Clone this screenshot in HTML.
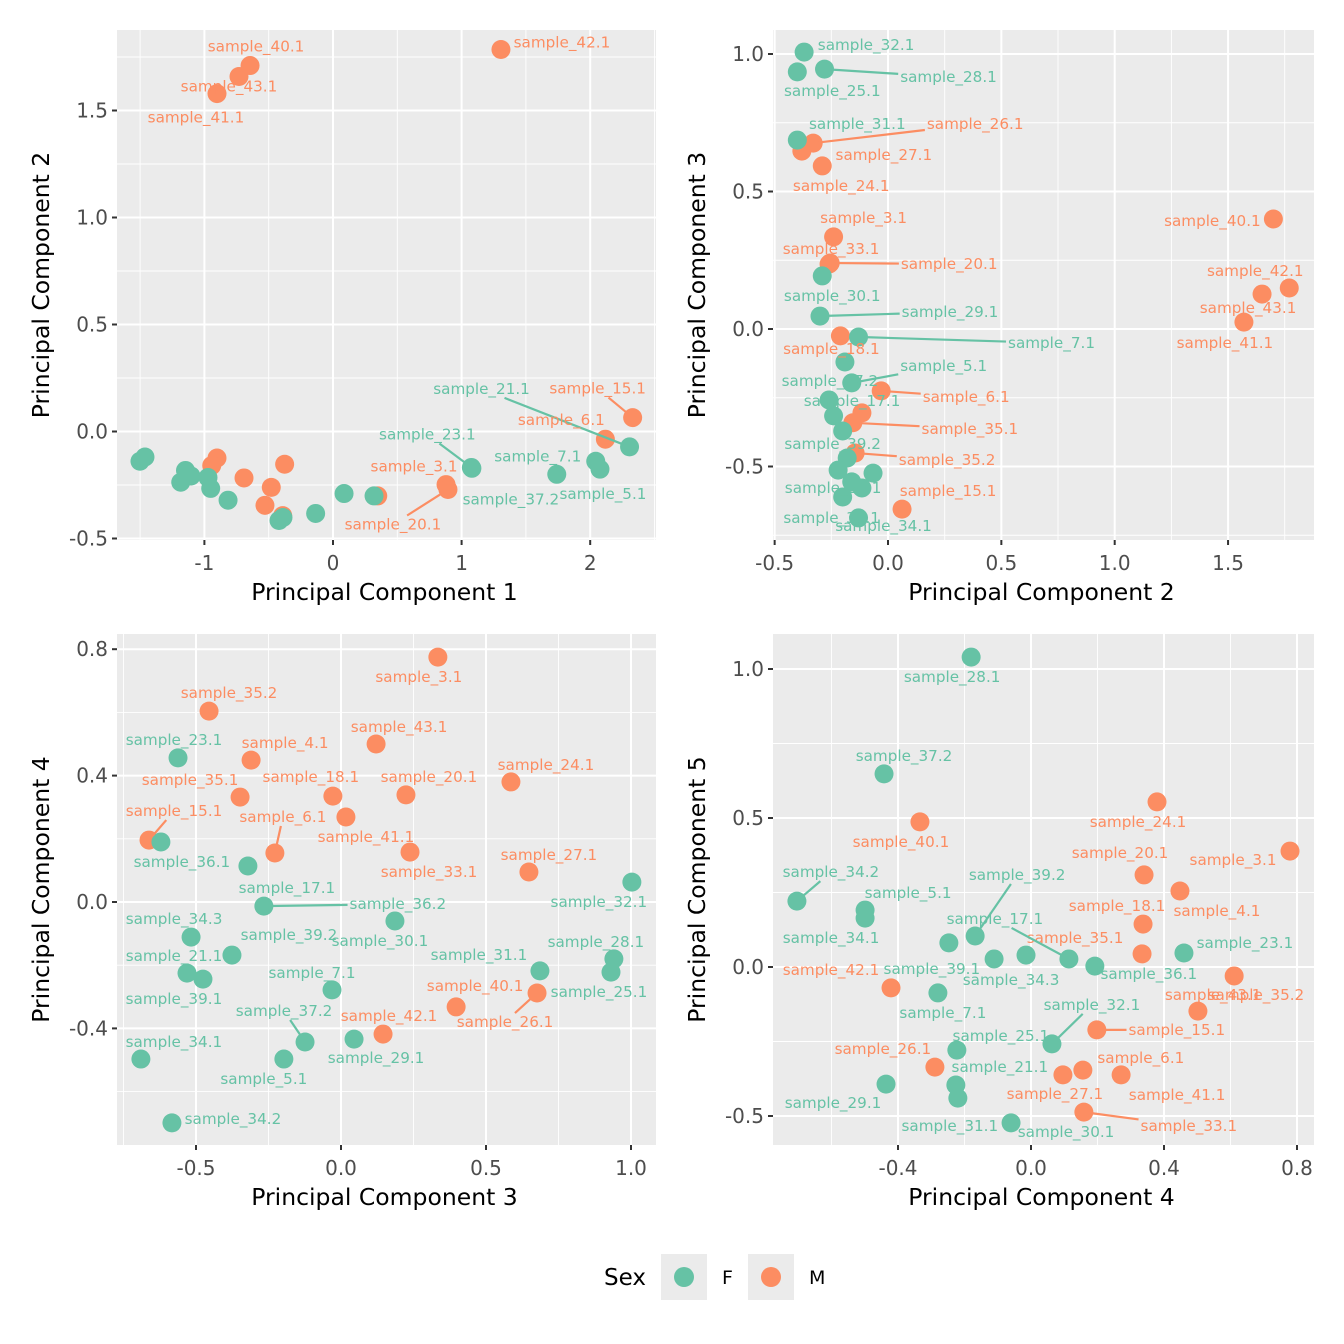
<!DOCTYPE html>
<html><head><meta charset="utf-8"><style>
html,body{margin:0;padding:0;background:#fff;}
svg{display:block;font-family:"DejaVu Sans","Liberation Sans",sans-serif;}
</style></head><body>
<svg id="chart" width="1344" height="1344" viewBox="0 0 1344 1344" xmlns="http://www.w3.org/2000/svg">
<rect x="0" y="0" width="1344" height="1344" fill="#fff"/>
<g>
  <text x="604" y="1285" font-size="23" fill="#000">Sex</text>
  <rect x="661" y="1254" width="46" height="46" fill="#EBEBEB"/>
  <circle cx="684" cy="1277" r="10" fill="#66C2A5"/>
  <text x="722" y="1284" font-size="19" fill="#000">F</text>
  <rect x="748" y="1254" width="46" height="46" fill="#EBEBEB"/>
  <circle cx="771" cy="1277" r="10" fill="#FC8D62"/>
  <text x="809" y="1284" font-size="19" fill="#000">M</text>
</g>
</svg>
<script>
// ---- Panel 1: PC1 vs PC2 ----
const p1Sex = ['F','F','F','F','F','F','F','F','F','F','F','F','F','F','F','F','F','F','F','M','M','M','M','M','M','M','M','M','M','M','M','M','M','M','M'];
const p1X = [-1.501,-1.462,-1.147,-1.184,-1.104,-0.972,-0.951,-0.816,-0.420,-0.389,-0.135,0.086,0.319,1.076,1.080,1.740,2.043,2.076,2.306,-0.902,-0.943,-0.692,-0.376,-0.480,-0.529,-0.391,0.348,0.879,0.894,2.118,2.330,-0.902,-0.731,-0.645,1.306];
const p1Y = [-0.139,-0.119,-0.182,-0.237,-0.208,-0.215,-0.266,-0.321,-0.416,-0.402,-0.383,-0.290,-0.301,-0.168,-0.172,-0.200,-0.139,-0.176,-0.072,-0.124,-0.159,-0.217,-0.153,-0.261,-0.345,-0.393,-0.301,-0.248,-0.271,-0.036,0.065,1.579,1.659,1.710,1.785];
const p1Names = ['','','','','','','','','','','','','','sample_23.1','sample_37.2','sample_7.1','','sample_5.1','sample_21.1','','','','','','','','','sample_3.1','sample_20.1','sample_6.1','sample_15.1','sample_41.1','sample_43.1','sample_40.1','sample_42.1'];
const p1LabDx = [0,0,0,0,0,0,0,0,0,0,0,0,0,-44,39,-19,0,3,-148,0,0,0,0,0,0,0,0,-32,-55,-44,-35,-21,-10,6,61];
const p1LabDy = [0,0,0,0,0,0,0,0,0,0,0,0,0,-33,31,-18,0,25,-58,0,0,0,0,0,0,0,0,-18,35,-19,-29,24,10,-19,-7];
const p1Seg = [0,0,0,0,0,0,0,0,0,0,0,0,0,1,0,0,0,0,1,0,0,0,0,0,0,0,0,0,1,0,1,0,0,0,0];
const p1XTicks = [-1,0,1,2];
const p1XTickLabels = ['-1','0','1','2'];
const p1YTicks = [-0.5,0,0.5,1,1.5];
const p1YTickLabels = ['-0.5','0.0','0.5','1.0','1.5'];

// ---- Panel 2: PC2 vs PC3 ----
const p2Sex = ['M','M','M','M','M','M','M','M','M','M','M','M','M','M','M','M','F','F','F','F','F','F','F','F','F','F','F','F','F','F','F','F','F','F','F'];
const p2X = [-0.33,-0.38,-0.29,-0.24,-0.26,-0.255,-0.21,-0.03,-0.115,-0.155,-0.145,0.062,1.70,1.77,1.65,1.57,-0.37,-0.40,-0.28,-0.40,-0.29,-0.30,-0.13,-0.19,-0.16,-0.26,-0.24,-0.20,-0.18,-0.22,-0.066,-0.16,-0.115,-0.20,-0.13];
const p2Y = [0.676,0.647,0.593,0.335,0.236,0.240,-0.025,-0.225,-0.305,-0.341,-0.451,-0.655,0.40,0.149,0.127,0.025,1.007,0.935,0.945,0.687,0.193,0.047,-0.029,-0.12,-0.196,-0.258,-0.316,-0.371,-0.469,-0.513,-0.524,-0.556,-0.578,-0.611,-0.687];
const p2Names = ['sample_26.1','sample_27.1','sample_24.1','sample_3.1','sample_33.1','sample_20.1','sample_18.1','sample_6.1','','sample_35.1','sample_35.2','sample_15.1','sample_40.1','sample_42.1','sample_43.1','sample_41.1','sample_32.1','sample_25.1','sample_28.1','sample_31.1','sample_30.1','sample_29.1','sample_7.1','sample_37.2','sample_5.1','sample_17.1','','sample_39.2','','sample_21.1','','','','sample_36.1','sample_34.1'];
const p2LabDx = [162,82,19,30,2,119,-9,85,0,117,92,46,-61,-34,-14,-19,62,35,124,60,10,130,193,-15,92,23,0,-10,0,-5,0,0,0,-11,25];
const p2LabDy = [-19,4,20,-19,-15,1,13,6,0,6,7,-18,2,-17,14,21,-7,19,8,-16,20,-4,6,19,-17,1,0,13,0,18,0,0,0,21,8];
const p2Seg = [1,0,0,0,0,1,0,1,0,1,1,0,0,0,0,0,0,0,1,0,0,1,1,0,1,0,0,0,0,0,0,0,0,0,0];
const p2XTicks = [-0.5,0,0.5,1,1.5];
const p2XTickLabels = ['-0.5','0.0','0.5','1.0','1.5'];
const p2YTicks = [-0.5,0,0.5,1];
const p2YTickLabels = ['-0.5','0.0','0.5','1.0'];

// ---- Panel 3: PC3 vs PC4 ----
const p3Sex = ['M','M','F','M','M','M','M','M','M','M','M','F','M','M','F','M','F','F','F','F','F','F','F','F','F','F','F','M','M','M','F','F','F','F','F'];
const p3X = [0.334,-0.455,-0.562,-0.31,0.121,-0.348,-0.028,0.224,0.586,0.017,-0.662,-0.621,-0.228,0.238,-0.321,0.648,1.003,-0.266,0.186,-0.517,-0.376,-0.531,-0.476,-0.031,0.941,0.686,0.931,0.676,0.397,0.145,0.045,-0.124,-0.197,-0.69,-0.583];
const p3Y = [0.775,0.604,0.456,0.449,0.5,0.332,0.335,0.339,0.38,0.269,0.196,0.19,0.155,0.158,0.114,0.095,0.063,-0.013,-0.06,-0.111,-0.168,-0.225,-0.244,-0.278,-0.18,-0.218,-0.222,-0.288,-0.332,-0.418,-0.434,-0.443,-0.497,-0.497,-0.699];
const p3Names = ['sample_3.1','sample_35.2','sample_23.1','sample_4.1','sample_43.1','sample_35.1','sample_18.1','sample_20.1','sample_24.1','sample_41.1','sample_15.1','sample_36.1','sample_6.1','sample_33.1','sample_17.1','sample_27.1','sample_32.1','sample_36.2','sample_30.1','sample_34.3','sample_39.2','sample_21.1','sample_39.1','sample_7.1','sample_28.1','sample_31.1','sample_25.1','sample_26.1','sample_40.1','sample_42.1','sample_29.1','sample_37.2','sample_5.1','sample_34.1','sample_34.2'];
const p3LabDx = [-19,20,-4,34,23,-50,-22,23,35,20,25,21,8,19,39,20,-33,134,-15,-17,57,-13,-29,-20,-18,-61,-12,-32,19,6,22,-21,-20,33,61];
const p3LabDy = [20,-18,-18,-17,-17,-17,-19,-18,-17,20,-29,20,-36,20,22,-17,20,-2,20,-18,-20,-17,20,-17,-17,-16,20,29,-21,-18,19,-31,20,-17,-4];
const p3Seg = [0,0,0,0,0,0,0,0,0,0,1,0,1,0,0,0,0,1,0,0,0,0,0,0,0,0,0,1,0,0,0,1,0,0,0];
const p3XTicks = [-0.5,0,0.5,1];
const p3XTickLabels = ['-0.5','0.0','0.5','1.0'];
const p3YTicks = [-0.4,0,0.4,0.8];
const p3YTickLabels = ['-0.4','0.0','0.4','0.8'];

// ---- Panel 4: PC4 vs PC5 ----
const p4Sex = ['F','F','M','M','M','M','M','F','F','F','M','F','F','M','F','F','F','F','F','M','M','F','M','M','F','F','M','F','M','M','M','F','F','F','M'];
const p4X = [-0.180,-0.442,0.379,-0.334,0.779,0.340,0.448,-0.704,-0.499,-0.499,0.337,-0.168,-0.247,0.334,0.460,-0.111,-0.015,0.114,0.192,0.611,-0.421,-0.280,0.502,0.198,0.063,-0.223,-0.289,-0.226,0.096,0.156,0.271,-0.436,-0.220,-0.060,0.159];
const p4Y = [1.040,0.648,0.554,0.487,0.389,0.309,0.255,0.221,0.191,0.164,0.144,0.104,0.081,0.044,0.047,0.027,0.040,0.027,0.003,-0.030,-0.070,-0.087,-0.148,-0.211,-0.258,-0.279,-0.336,-0.396,-0.362,-0.346,-0.362,-0.393,-0.440,-0.523,-0.487];
const p4Names = ['sample_28.1','sample_37.2','sample_24.1','sample_40.1','sample_3.1','sample_20.1','sample_4.1','sample_34.2','sample_5.1','sample_34.1','sample_18.1','sample_39.2','sample_39.1','sample_35.1','sample_23.1','sample_34.3','','sample_17.1','sample_36.1','sample_43.1','sample_42.1','sample_7.1','sample_35.2','sample_15.1','sample_32.1','sample_25.1','sample_26.1','sample_21.1','sample_27.1','sample_6.1','sample_41.1','sample_29.1','sample_31.1','sample_30.1','sample_33.1'];
const p4LabDx = [-19,20,-19,-19,-57,-24,37,34,43,-34,-26,42,-17,-67,61,17,0,-74,54,-21,-60,5,58,80,40,44,-52,44,-8,58,56,-53,-8,55,105];
const p4LabDy = [20,-18,20,20,9,-22,20,-29,-17,20,-18,-61,26,-16,-10,21,0,-40,8,19,-18,20,-16,0,-39,-14,-18,-18,19,-12,20,19,28,9,14];
const p4Seg = [0,0,0,0,0,0,0,1,0,0,0,1,0,0,0,0,0,1,0,0,0,0,0,1,1,0,0,0,0,0,0,0,0,0,1];
const p4XTicks = [-0.4,0,0.4,0.8];
const p4XTickLabels = ['-0.4','0.0','0.4','0.8'];
const p4YTicks = [-0.5,0,0.5,1];
const p4YTickLabels = ['-0.5','0.0','0.5','1.0'];

const NS = 'http://www.w3.org/2000/svg';
const COLORS = {F:'#66C2A5', M:'#FC8D62'};
const svg = document.getElementById('chart');
function mk(tag, attrs, parent){
  const e = document.createElementNS(NS, tag);
  for (const k in attrs) e.setAttribute(k, attrs[k]);
  parent.appendChild(e);
  return e;
}
function linear(d0,d1,r0,r1){ return v => r0 + (v-d0)*(r1-r0)/(d1-d0); }

function drawPanel(cfg){
  const {id, box, xs, ys, xTicks, xTickLabels, yTicks, yTickLabels, xTitle, yTitle, X, Y, sex, names, ldx, ldy, seg} = cfg;
  const [L,T,R,B] = box;
  const g = mk('g', {}, svg);
  
  
  const bg = mk('rect', {x:L, y:T, width:R-L, height:B-T, fill:'#EBEBEB'}, g);
  
  
  const xstep = xTicks[1]-xTicks[0], ystep = yTicks[1]-yTicks[0];
  for (let v = xTicks[0]-xstep*1.5; v <= xTicks[xTicks.length-1]+xstep*1.5; v += xstep){
    const px = xs(v); if (px<L||px>R) continue;
    const ln = mk('line', {x1:px, x2:px, y1:T, y2:B, stroke:'#fff', 'stroke-width':0.9}, g);
    
    
  }
  for (let v = yTicks[0]-ystep*1.5; v <= yTicks[yTicks.length-1]+ystep*1.5; v += ystep){
    const py = ys(v); if (py<T||py>B) continue;
    const ln = mk('line', {x1:L, x2:R, y1:py, y2:py, stroke:'#fff', 'stroke-width':0.9}, g);
    
    
  }
  xTicks.forEach((v,i) => {
    const px = xs(v);
    const ln = mk('line', {x1:px, x2:px, y1:T, y2:B, stroke:'#fff', 'stroke-width':2}, g);
    
    
    const tk = mk('line', {x1:px, x2:px, y1:B, y2:B+5, stroke:'#333', 'stroke-width':2}, g);
    
    
    const t = mk('text', {x:px, y:B+30, 'text-anchor':'middle', 'font-size':20, fill:'#4D4D4D'}, g);
    
    
    t.textContent = xTickLabels[i];
  });
  yTicks.forEach((v,i) => {
    const py = ys(v);
    const ln = mk('line', {x1:L, x2:R, y1:py, y2:py, stroke:'#fff', 'stroke-width':2}, g);
    
    
    const tk = mk('line', {x1:L-5, x2:L, y1:py, y2:py, stroke:'#333', 'stroke-width':2}, g);
    
    
    const t = mk('text', {x:L-9, y:py+7, 'text-anchor':'end', 'font-size':20, fill:'#4D4D4D'}, g);
    
    
    t.textContent = yTickLabels[i];
  });
  const xt = mk('text', {x:(L+R)/2 - 2, y:B+60, 'text-anchor':'middle', 'font-size':23.5, fill:'#000'}, g);
  
  
  xt.textContent = xTitle;
  const ycx = L-68, ycy = (T+B)/2;
  const yt = mk('text', {x:ycx, y:ycy, 'text-anchor':'middle', 'font-size':23.5, fill:'#000', transform:`rotate(-90 ${ycx} ${ycy})`}, g);
  
  
  yt.textContent = yTitle;

  const clip = mk('g', {}, g);
  const order = [];
  X.forEach((_,i)=>{ if (sex[i]==='M') order.push(i); });
  X.forEach((_,i)=>{ if (sex[i]==='F') order.push(i); });
  const R_PT = 9.5;
  order.forEach(i => {
    const c = mk('circle', {cx:xs(X[i]), cy:ys(Y[i]), r:R_PT, fill:COLORS[sex[i]]}, clip);
    
    
  });
  X.forEach((_,i) => {
    if (!names[i]) return;
    const px = xs(X[i]), py = ys(Y[i]);
    const lx = px + ldx[i], ly = py + ldy[i];
    const t = mk('text', {x:lx, y:ly+5, 'text-anchor':'middle', 'font-size':15.2, fill:COLORS[sex[i]]}, clip);
    
    
    t.textContent = names[i];
    if (seg[i]){
      const w = t.getComputedTextLength ? t.getComputedTextLength() : 95;
      const hw = w/2 + 2, hh = 9;
      const dx = px - lx, dy = py - ly;
      const tt = Math.min(dx!==0 ? hw/Math.abs(dx) : 1e9, dy!==0 ? hh/Math.abs(dy) : 1e9);
      if (tt < 1){
        const sx = lx + dx*tt, sy = ly + dy*tt;
        const len = Math.hypot(px-sx, py-sy);
        const k = Math.max(0, (len - R_PT*0.6)/len);
        const ln = mk('line', {x1:sx, y1:sy, x2:sx+(px-sx)*k, y2:sy+(py-sy)*k, stroke:COLORS[sex[i]], 'stroke-width':2.2}, clip);
        
        
      }
    }
  });
}

drawPanel({id:'panel-pc1-pc2', box:[117,30,656,540], xs:linear(0,1,333,461.6), ys:linear(0,1,431.5,217.5),
  xTicks:p1XTicks, xTickLabels:p1XTickLabels, yTicks:p1YTicks, yTickLabels:p1YTickLabels,
  xTitle:'Principal Component 1', yTitle:'Principal Component 2',
  X:p1X, Y:p1Y, sex:p1Sex, names:p1Names, ldx:p1LabDx, ldy:p1LabDy, seg:p1Seg});
drawPanel({id:'panel-pc2-pc3', box:[773,30,1314,540], xs:linear(0,1,888,1114.7), ys:linear(0,1,329,54),
  xTicks:p2XTicks, xTickLabels:p2XTickLabels, yTicks:p2YTicks, yTickLabels:p2YTickLabels,
  xTitle:'Principal Component 2', yTitle:'Principal Component 3',
  X:p2X, Y:p2Y, sex:p2Sex, names:p2Names, ldx:p2LabDx, ldy:p2LabDy, seg:p2Seg});
drawPanel({id:'panel-pc3-pc4', box:[117,634,656,1145], xs:linear(0,1,341,631), ys:linear(0,0.4,902,775.6),
  xTicks:p3XTicks, xTickLabels:p3XTickLabels, yTicks:p3YTicks, yTickLabels:p3YTickLabels,
  xTitle:'Principal Component 3', yTitle:'Principal Component 4',
  X:p3X, Y:p3Y, sex:p3Sex, names:p3Names, ldx:p3LabDx, ldy:p3LabDy, seg:p3Seg});
drawPanel({id:'panel-pc4-pc5', box:[773,634,1314,1145], xs:linear(0,0.4,1031,1164), ys:linear(0,0.5,967,818),
  xTicks:p4XTicks, xTickLabels:p4XTickLabels, yTicks:p4YTicks, yTickLabels:p4YTickLabels,
  xTitle:'Principal Component 4', yTitle:'Principal Component 5',
  X:p4X, Y:p4Y, sex:p4Sex, names:p4Names, ldx:p4LabDx, ldy:p4LabDy, seg:p4Seg});
</script>
</body></html>
